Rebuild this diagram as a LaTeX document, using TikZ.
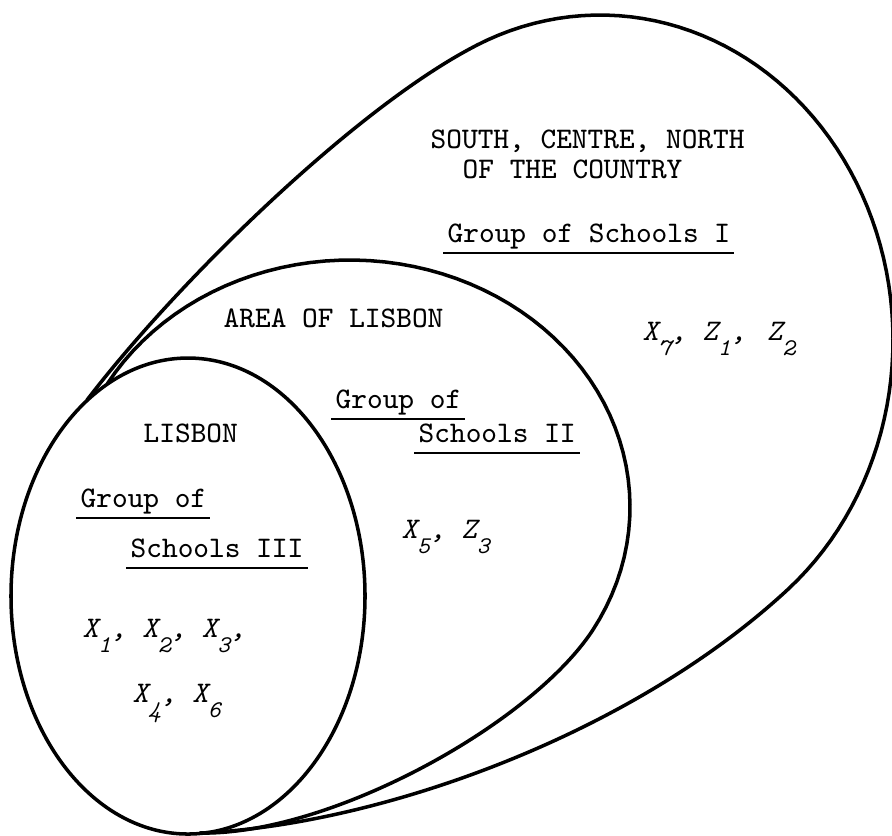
\documentclass[tikz,border=0pt]{standalone}
\usepackage{fontspec}
\usetikzlibrary{positioning}
\newcommand{\dn}[1]{\raisebox{-4.3pt}{\fontsize{6.8}{7}\selectfont #1}}

\begin{document}
\begin{tikzpicture}[x=0.01cm, y=-0.01cm,
    lbl/.style={anchor=base west, inner sep=0pt, font=\fontsize{8.5}{10}\selectfont\ttfamily},
    var/.style={lbl, font=\fontsize{8.5}{10}\selectfont\ttfamily\itshape},
    rim/.style={line width=1pt, line join=round, line cap=round},
    uline/.style={line width=0.5pt}]
    \useasboundingbox (0,0) rectangle (892,835);
    \clip (0,0) rectangle (892,835);

    % Lisbon (inner oval)
    \draw[rim] (188,596) ellipse [x radius=177, y radius=238];

    % Area of Lisbon (middle egg)
    \draw[rim] plot[domain=150:-30, samples=60, variable=\t] ({350+280*cos(\t)}, {507-247*sin(\t)})
        .. controls (530,725) and (330,835) .. (200,833);

    % South, centre, north (outer egg)
    \draw[rim] (87,400) .. controls (178,281) and (356.5,107) .. (476.2,45.5)
        -- plot[domain=115:-50, samples=70, variable=\t] ({600+293*cos(\t)}, {340-325*sin(\t)})
        .. controls (631,735) and (380,825) .. (200,833);

    % Texte
    \node[lbl] (south) at (430,148) {SOUTH, CENTRE, NORTH};
    \node[lbl] (country) at (462,178) {OF THE COUNTRY};
    \node[lbl] (grpI) at (447,242) {Group of Schools I};
    \node[var] (xcountry) at (642,340) {X\dn{7}, Z\dn{1}, \,Z\dn{2}};

    \node[lbl] (area) at (223,327) {AREA OF LISBON};
    \node[lbl] (grpIIa) at (335,408) {Group of};
    \node[lbl] (grpIIb) at (418,442) {Schools II};
    \node[var] (xarea) at (401,538) {X\dn{5}, Z\dn{3}};

    \node[lbl] (lisbon) at (143,442) {LISBON};
    \node[lbl] (grpIIIa) at (80,507) {Group of};
    \node[lbl] (grpIIIb) at (130,557) {Schools III};
    \node[var] (xlis) at (82,637) {X\dn{1}, X\dn{2}, X\dn{3},};
    \node[var] (xlisb) at (132,702) {X\dn{4}, X\dn{6}};

    % Soulignements
    \foreach \g in {grpI, grpIIa, grpIIb, grpIIIa, grpIIIb}
        \draw[uline] ([xshift=-1pt, yshift=-3.1pt]\g.base west) -- ([xshift=1pt, yshift=-3.1pt]\g.base east);
\end{tikzpicture}
\end{document}
